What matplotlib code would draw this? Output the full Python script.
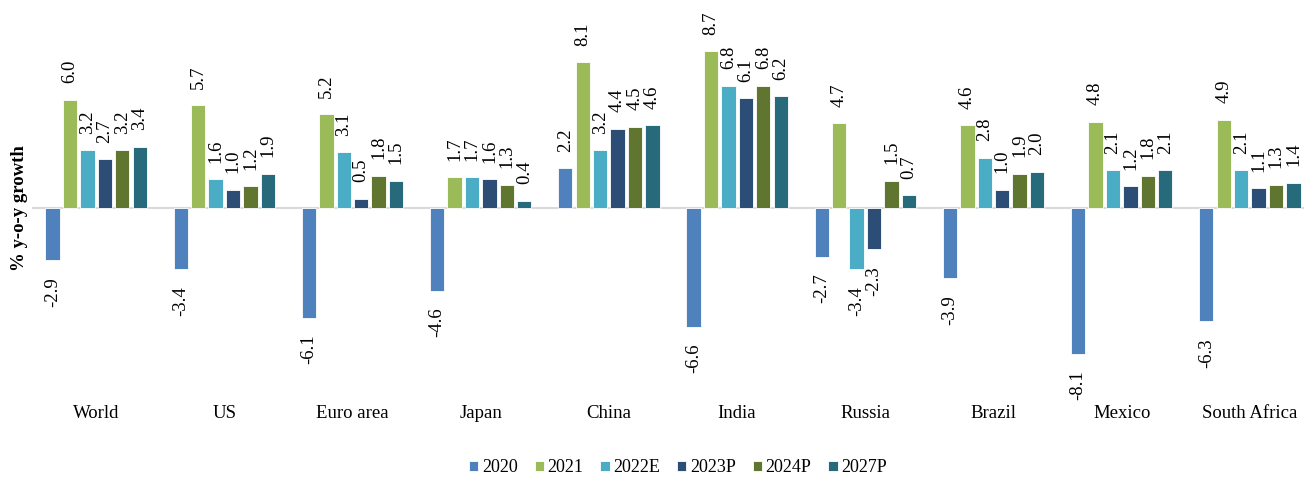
import numpy as np
import matplotlib
matplotlib.use("Agg")
import matplotlib.pyplot as plt

plt.rcParams['font.family'] = ['Liberation Serif', 'DejaVu Serif']

regions = ['World', 'US', 'Euro area', 'Japan', 'China', 'India',
           'Russia', 'Brazil', 'Mexico', 'South Africa']
years = ['2020', '2021', '2022E', '2023P', '2024P', '2027P']

g2020 = [-2.9, -3.4, -6.1, -4.6, 2.2, -6.6, -2.7, -3.9, -8.1, -6.3]
g2021 = [6.0, 5.7, 5.2, 1.7, 8.1, 8.7, 4.7, 4.6, 4.8, 4.9]
g2022e = [3.2, 1.6, 3.1, 1.7, 3.2, 6.8, -3.4, 2.8, 2.1, 2.1]
g2023p = [2.7, 1.0, 0.5, 1.6, 4.4, 6.1, -2.3, 1.0, 1.2, 1.1]
g2024p = [3.2, 1.2, 1.8, 1.3, 4.5, 6.8, 1.5, 1.9, 1.8, 1.3]
g2027p = [3.4, 1.9, 1.5, 0.4, 4.6, 6.2, 0.7, 2.0, 2.1, 1.4]

series = [g2020, g2021, g2022e, g2023p, g2024p, g2027p]
colors = ['#4F81BD', '#9BBB59', '#4BACC6', '#2C4D75', '#5F7530', '#276A7C']

W, H = 1304, 479
fig = plt.figure(figsize=(W / 100, H / 100), dpi=100)
# plot area in pixels: x 32..1314, y 10..388
ax = fig.add_axes([32 / W, (H - 388) / H, 1282 / W, 378 / H])

x = np.arange(len(regions))
pitch = 0.136
width = 0.112

for i, (vals, col, yr) in enumerate(zip(series, colors, years)):
    pos = x + (i - 2.5) * pitch
    bars = ax.bar(pos, vals, width, color=col, edgecolor='white', linewidth=0.6, label=yr)
    for b, v in zip(bars, vals):
        cx = b.get_x() + b.get_width() / 2
        if v >= 0:
            ax.annotate(f'{v:.1f}', (cx, v), xytext=(0, 12), textcoords='offset points',
                        rotation=90, ha='center', va='bottom', fontsize=13.5)
        else:
            ax.annotate(f'{v:.1f}', (cx, v), xytext=(0, -12), textcoords='offset points',
                        rotation=90, ha='center', va='top', fontsize=13.5)

ax.axhline(0, color='#D9D9D9', linewidth=1.5, zorder=0)
ax.set_xlim(-0.5, len(regions) - 0.5)
ax.set_ylim(-10, 11)
ax.set_yticks([])
ax.set_xticks(x)
ax.set_xticklabels(regions, fontsize=13.5)
ax.tick_params(axis='x', length=0, pad=12)
for s in ax.spines.values():
    s.set_visible(False)

fig.text(20 / W, 1 - 208 / H, '% y-o-y growth', rotation=90, ha='center', va='center',
         fontsize=13.5, fontweight='bold')

fig.legend(loc='center', bbox_to_anchor=(678 / W, 1 - 468 / H), ncol=6, frameon=False,
           fontsize=13, handlelength=0.5, handleheight=0.5, handletextpad=0.2,
           columnspacing=0.95)

fig.savefig('out.png', dpi=100)
